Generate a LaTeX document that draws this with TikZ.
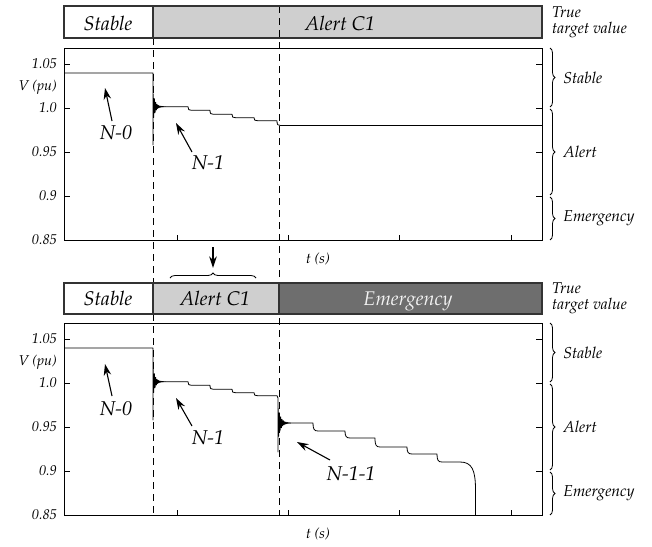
\documentclass[tikz,border=0pt]{standalone}
\usepackage[T1]{fontenc}
\usepackage{mathpazo}
\usetikzlibrary{arrows.meta,decorations.pathreplacing}

\definecolor{alertgrey}{HTML}{CFCFCF}
\definecolor{emergrey}{HTML}{6E6E6E}
\definecolor{bartext}{HTML}{F2F2F2}

\begin{document}
\begin{tikzpicture}[x=1pt,y=-1pt,
  bartxt/.style={font=\fontsize{19.8}{22}\selectfont\itshape, inner sep=0pt, anchor=base},
  annot/.style={font=\fontsize{20}{22}\selectfont\itshape, inner sep=0pt},
  ticklbl/.style={font=\fontsize{14.2}{16}\selectfont\itshape, inner sep=0pt, anchor=base east},
  sidelbl/.style={font=\fontsize{15.8}{18}\selectfont\itshape, inner sep=0pt},
  truelbl/.style={font=\fontsize{15.6}{17}\selectfont\itshape, inner sep=0pt, anchor=base west},
  barframe/.style={draw=black!80, line width=1.1pt},
  frame/.style={draw=black, line width=0.9pt},
  sig/.style={draw=black, line width=0.8pt, line join=round},
  vdash/.style={draw=black, line width=0.8pt, dash pattern=on 7pt off 5pt},
  ptr/.style={draw=black, line width=1.1pt, -{Stealth[length=11.5pt,width=7.5pt]}},
  sidebrace/.style={draw=black, line width=0.8pt, decorate, decoration={brace, amplitude=5pt}},
]
\useasboundingbox (0,0) rectangle (652,546);

% ---------- state bars: fills ----------
\fill[white]      (64,6)   rectangle (153,38);
\fill[alertgrey]  (153,6)  rectangle (542,38);
\fill[white]      (64,283) rectangle (153,314);
\fill[alertgrey]  (153,283) rectangle (279,314);
\fill[emergrey]   (279,283) rectangle (542,314);

% ---------- event instants ----------
\coordinate (e1top) at (153,38);
\coordinate (e1bot) at (153,515);
\coordinate (e2top) at (279,6);
\coordinate (e2bot) at (279,515);
\draw[vdash] (e1top) -- (e1bot);
\draw[vdash] (e2top) -- (e2bot);

% ---------- state bars: outlines and texts ----------
\draw[barframe] (64,6) rectangle (542,38);
\draw[barframe] (153,6) -- (153,38);
\draw[barframe] (64,283) rectangle (542,314);
\draw[barframe] (153,283) -- (153,314);
\draw[barframe] (279,283) -- (279,314);

\node[bartxt] (b1s) at (108,30) {Stable};
\node[bartxt] (b1a) at (340,30) {Alert C1};
\node[bartxt] (b2s) at (108,305.5) {Stable};
\node[bartxt] (b2a) at (215,305.5) {Alert C1};
\node[bartxt, text=bartext] (b2e) at (408,305.5) {Emergency};

\node[truelbl] (tv1a) at (552,17) {True};
\node[truelbl] (tv1b) at (552,33.5) {target value};
\node[truelbl] (tv2a) at (552,293) {True};
\node[truelbl] (tv2b) at (552,309.5) {target value};

% ---------- plot frames, ticks, labels ----------
\foreach \dy/\tag in {0/a, 275/b} {
  \begin{scope}[shift={(0,\dy)}]
    \draw[frame] (64,48) rectangle (542,240);
    \foreach \yy in {64,108,152,196} {
      \draw[frame] (64,\yy) -- (70,\yy);
      \draw[frame] (542,\yy) -- (536,\yy);
    }
    \foreach \xx in {177,288,399,511}
      \draw[frame] (\xx,240) -- (\xx,235);
    \node[ticklbl] (y105\tag) at (57,68)  {1.05};
    \node[ticklbl] (yv\tag)   at (57,90)  {V (pu)};
    \node[ticklbl] (y100\tag) at (57,112) {1.0};
    \node[ticklbl] (y095\tag) at (57,156.5) {0.95};
    \node[ticklbl] (y090\tag) at (57,200) {0.9};
    \node[ticklbl] (y085\tag) at (57,244) {0.85};
    \node[font=\fontsize{14.5}{16}\selectfont\itshape, inner sep=0pt, anchor=west] (tx\tag) at (306,259.5) {t (s)};
    % security margins
    \draw[sidebrace] (550,48)  -- (550,107) node[midway, xshift=13pt, sidelbl, anchor=west] (ms\tag) {Stable};
    \draw[sidebrace] (550,109) -- (550,195) node[midway, xshift=13pt, sidelbl, anchor=west] (ma\tag) {Alert};
    \draw[sidebrace] (550,197) -- (550,240) node[midway, xshift=13pt, sidelbl, anchor=west] (me\tag) {Emergency};
  \end{scope}
}

% ---------- voltage trace, N-1 case ----------
\draw[sig] (64,73) -- (153,73) -- (153,145) -- (153,92)
  -- plot[domain=0:16, samples=193] ({153+\x},{106.7-14.7*exp(-0.45*\x)*cos(270*\x)})
  -- (188,106.7) .. controls (188,109.8) and (188.8,110.3) .. (191.5,110.3)
  -- (210,110.3) .. controls (210,113.8) and (210.8,114.3) .. (213.5,114.3)
  -- (232,114.3) .. controls (232,117.2) and (232.8,117.7) .. (235.5,117.7)
  -- (254,117.7) .. controls (254,120.2) and (254.8,120.7) .. (257.5,120.7)
  -- (277,120.7) .. controls (277,125) and (277.8,125.5) .. (280.5,125.5)
  -- (542,125.5);

% ---------- voltage trace, N-1-1 case ----------
\draw[sig] (64,348) -- (153,348) -- (153,420) -- (153,367)
  -- plot[domain=0:16, samples=193] ({153+\x},{381.7-14.7*exp(-0.45*\x)*cos(270*\x)})
  -- (188,381.7) .. controls (188,384.8) and (188.8,385.3) .. (191.5,385.3)
  -- (210,385.3) .. controls (210,388.8) and (210.8,389.3) .. (213.5,389.3)
  -- (232,389.3) .. controls (232,392.2) and (232.8,392.7) .. (235.5,392.7)
  -- (254,392.7) .. controls (254,395.2) and (254.8,395.7) .. (257.5,395.7)
  -- (277,395.7) -- (278,398) -- (278,452) -- (278,406)
  -- plot[domain=0:20, samples=241] ({278+\x},{423-17*exp(-0.38*\x)*cos(270*\x)})
  -- (313,423) .. controls (313,429) and (314,431) .. (318,431)
  -- (345,431) .. controls (345,436) and (346,438) .. (350,438)
  -- (375,438) .. controls (375,445) and (376,447) .. (380,447)
  -- (407,447) .. controls (407,452) and (408,454) .. (412,454)
  -- (437,454) .. controls (437,460) and (438,462) .. (442,462)
  -- (460,462) .. controls (472,462) and (475.5,470) .. (475.5,490)
  -- (475.5,515);

% ---------- contingency labels ----------
\node[annot] (n0a) at (116,133) {N-0};
\node[annot] (n1a) at (208,163) {N-1};
\node[annot] (n0b) at (116,409) {N-0};
\node[annot] (n1b) at (208,438) {N-1};
\node[annot] (n11b) at (351,474) {N-1-1};

\coordinate (n0ah) at (105,88);
\coordinate (n0at) at (112,121);
\coordinate (n1ah) at (176,123);
\coordinate (n1at) at (192,152);
\coordinate (n0bh) at (105,364);
\coordinate (n0bt) at (112,396);
\coordinate (n1bh) at (176,398);
\coordinate (n1bt) at (192,426);
\coordinate (n11bh) at (297,442);
\coordinate (n11bt) at (330,460);

\draw[ptr] (n0at) -- (n0ah);
\draw[ptr] (n1at) -- (n1ah);
\draw[ptr] (n0bt) -- (n0bh);
\draw[ptr] (n1bt) -- (n1bh);
\draw[ptr] (n11bt) -- (n11bh);

% ---------- link between the two panels ----------
\coordinate (linktop) at (213,247);
\coordinate (linkhead) at (213,268);
\draw[ptr] (linktop) -- (linkhead);
\draw[draw=black, line width=0.8pt, decorate, decoration={brace, amplitude=5pt}] (170,278) -- (256,278);
\end{tikzpicture}
\end{document}
